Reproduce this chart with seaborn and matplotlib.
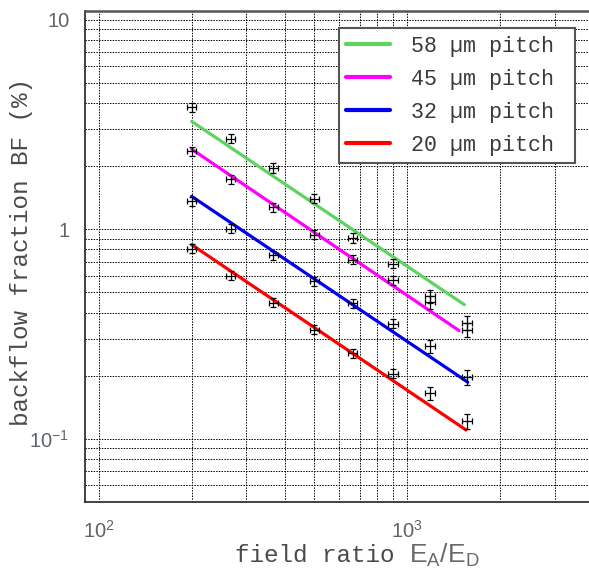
import numpy as np
import pandas as pd
import matplotlib
matplotlib.use("Agg")
import matplotlib.pyplot as plt
import seaborn as sns
from matplotlib.ticker import FixedLocator, FixedFormatter, NullFormatter
from matplotlib.lines import Line2D

# ---------------- data ----------------
field_ratio = [200, 268, 368, 500, 665, 900, 1185, 1560]
bf_58 = [3.83, 2.70, 1.96, 1.40, 0.908, 0.684, 0.478, 0.357]
bf_45 = [2.35, 1.735, 1.276, 0.94, 0.715, 0.570, 0.449, 0.331]
bf_32 = [1.358, 1.005, 0.75, 0.564, 0.444, 0.354, 0.276, 0.196]
bf_20 = [0.807, 0.60, 0.446, 0.331, 0.256, 0.204, 0.165, 0.1214]
yerr_rel = [0.05, 0.05, 0.05, 0.05, 0.05, 0.05, 0.07, 0.08]
xerr_rel = 0.035

pitches = ["58 µm pitch", "45 µm pitch", "32 µm pitch", "20 µm pitch"]
fit_x_start = [200, 200, 200, 200]
fit_x_end = [1530, 1470, 1570, 1550]
fit_y_start = [3.27, 2.41, 1.434, 0.843]
fit_y_end = [0.436, 0.328, 0.186, 0.110]
colors = ["#5fd35f", "#ff00ff", "#0000ee", "#ff0000"]

x_major = [100, 1000]
x_major_labels = [r"$10^{2}$", r"$10^{3}$"]
y_major = [0.1, 1, 10]
y_major_labels = [r"$10^{-1}$", "1", "10"]

# ---------------- style ----------------
sns.set_style("white")
plt.rcParams["font.family"] = ["Liberation Sans", "DejaVu Sans"]
plt.rcParams["mathtext.fontset"] = "custom"
plt.rcParams["mathtext.rm"] = "Liberation Sans"
plt.rcParams["mathtext.it"] = "Liberation Sans"
plt.rcParams["mathtext.sf"] = "Liberation Sans"

W, H = 589, 571
fig = plt.figure(figsize=(W / 100, H / 100), dpi=100)
# axes placed in pixel units (right edge runs past the figure edge)
x_lo, x_hi = 90, 5000
y_lo, y_hi = 0.05, 11
left_px, bottom_px = 84.6, 501.7
dec_x, dec_y = 308.6, 209.5
w_px = (np.log10(x_hi) - np.log10(x_lo)) * dec_x
h_px = (np.log10(y_hi) - np.log10(y_lo)) * dec_y
ax = fig.add_axes([left_px / W, 1 - bottom_px / H, w_px / W, h_px / H])

ax.set_xscale("log")
ax.set_yscale("log")
ax.set_xlim(x_lo, x_hi)
ax.set_ylim(y_lo, y_hi)

# fit lines via seaborn
fit_rows = []
for p, xs, xe, ys, ye in zip(pitches, fit_x_start, fit_x_end, fit_y_start, fit_y_end):
    fit_rows.append({"pitch": p, "x": xs, "y": ys})
    fit_rows.append({"pitch": p, "x": xe, "y": ye})
df_fit = pd.DataFrame(fit_rows)
sns.lineplot(data=df_fit, x="x", y="y", hue="pitch", hue_order=pitches,
             palette=colors, linewidth=2.3, legend=False, ax=ax, zorder=3)
ax.set_xlabel("")
ax.set_ylabel("")

# data points with error bars
for vals in [bf_58, bf_45, bf_32, bf_20]:
    x = np.array(field_ratio, dtype=float)
    y = np.array(vals)
    ax.errorbar(x, y, xerr=x * xerr_rel, yerr=y * np.array(yerr_rel),
                fmt="none", ecolor="black", elinewidth=0.9, capsize=2.3,
                capthick=0.9, zorder=4)

# ticks / grid
ax.xaxis.set_major_locator(FixedLocator(x_major))
ax.xaxis.set_major_formatter(FixedFormatter(x_major_labels))
ax.xaxis.set_minor_locator(FixedLocator([200, 300, 400, 500, 600, 700, 800, 900,
                                         2000, 3000, 4000]))
ax.xaxis.set_minor_formatter(NullFormatter())
ax.yaxis.set_major_locator(FixedLocator(y_major))
ax.yaxis.set_major_formatter(FixedFormatter(y_major_labels))
ax.yaxis.set_minor_locator(FixedLocator([0.06, 0.07, 0.08, 0.09] +
                                        [0.2, 0.3, 0.4, 0.5, 0.6, 0.7, 0.8, 0.9] +
                                        [2, 3, 4, 5, 6, 7, 8, 9]))
ax.yaxis.set_minor_formatter(NullFormatter())

ax.grid(True, which="both", color="black", linestyle=(0, (1.5, 1.3)), linewidth=0.7)
ax.set_axisbelow(True)
ax.tick_params(axis="both", which="both", direction="in", length=13, width=1.2,
               color="#707070", labelcolor="#5f6468", labelsize=14.5,
               top=False, right=False)
ax.tick_params(axis="x", which="major", pad=13)
ax.tick_params(axis="y", which="major", pad=11)

for side in ["left", "bottom", "top"]:
    ax.spines[side].set_color("#333333")
    ax.spines[side].set_linewidth(1.3)
ax.spines["top"].set_color("#555555")
ax.spines["top"].set_linewidth(1.8)
ax.spines["right"].set_visible(False)

# legend
handles = [Line2D([0], [0], color=c, lw=3) for c in colors]
leg = ax.legend(handles, [p + " " for p in pitches], loc="upper right",
                bbox_to_anchor=(575 / W, 1 - 28.3 / H), bbox_transform=fig.transFigure,
                borderaxespad=0, frameon=True, fancybox=False,
                prop={"family": "Liberation Mono", "size": 15.6},
                handlelength=2.0, handletextpad=1.0, labelspacing=0.55,
                borderpad=0.35, labelcolor="#3a3a3a")
leg.get_frame().set_edgecolor("#555555")
leg.get_frame().set_linewidth(1.5)
leg.get_frame().set_alpha(1)

# axis labels
fig.text(22 / W, 1 - 251.5 / H, "backflow fraction BF (%)", rotation=90,
         ha="center", va="center", family="Liberation Mono", fontsize=17.5,
         color="#4a4a4a")
fig.text(235 / W, 1 - 562.5 / H, "field ratio", ha="left", va="baseline",
         family="Liberation Mono", fontsize=17.5, color="#4a4a4a")
fig.text(409 / W, 1 - 562.5 / H, r"$\mathrm{E_A/E_D}$", ha="left", va="baseline",
         fontsize=19, color="#6a6a6a")

fig.savefig("out.png", dpi=100)
